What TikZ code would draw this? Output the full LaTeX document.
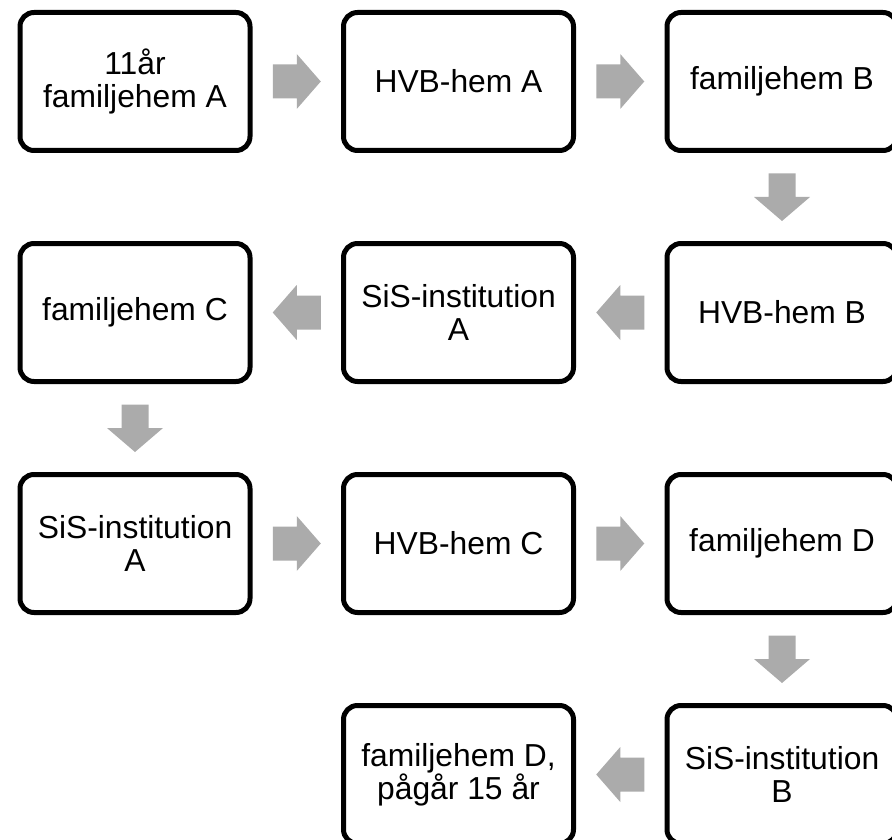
\documentclass[tikz,border=0pt]{standalone}
\usepackage{fontspec}
\setmainfont{Liberation Sans}
\usetikzlibrary{calc}
\definecolor{arrowgray}{HTML}{ABABAB}
\tikzset{
  stagebox/.style={draw=black, line width=5pt, fill=white, rounded corners=14pt,
    minimum width=230pt, minimum height=138pt, inner sep=0pt, align=center,
    font=\fontsize{31.8}{33}\selectfont},
  rarrow/.pic={\fill[arrowgray] (-24,-17) -- (0,-17) -- (0,-27.5) -- (24,0) -- (0,27.5) -- (0,17) -- (-24,17) -- cycle;},
  larrow/.pic={\fill[arrowgray] (24,-17) -- (0,-17) -- (0,-27.5) -- (-24,0) -- (0,27.5) -- (0,17) -- (24,17) -- cycle;},
  darrow/.pic={\fill[arrowgray] (-13.5,-23.5) -- (-13.5,0) -- (-28,0) -- (0,24) -- (28,0) -- (13.5,0) -- (13.5,-23.5) -- cycle;}
}
\begin{document}
\begin{tikzpicture}[x=1pt,y=-1pt]
\useasboundingbox (0,0) rectangle (892,840);
% row 1
\node[stagebox] (a1) at (135,81.5) {11år\\familjehem A};
\node[stagebox] (a2) at (458.5,81.5) {HVB-hem A};
\node[stagebox] (a3) at (782,81.5) {familjehem B};
% row 2
\node[stagebox] (b3) at (782,312.5) {HVB-hem B};
\node[stagebox] (b2) at (458.5,312.5) {SiS-institution\\A};
\node[stagebox] (b1) at (135,312.5) {familjehem C};
% row 3
\node[stagebox] (c1) at (135,543.5) {SiS-institution\\A};
\node[stagebox] (c2) at (458.5,543.5) {HVB-hem C};
\node[stagebox] (c3) at (782,543.5) {familjehem D};
% row 4
\node[stagebox] (d3) at (782,774.5) {SiS-institution\\B};
\node[stagebox] (d2) at (458.5,774.5) {familjehem D,\\pågår 15 år};
% arrows
\path ($(a1.east)!0.5!(a2.west)$) pic {rarrow};
\path ($(a2.east)!0.5!(a3.west)$) pic {rarrow};
\path ($(a3.south)!0.5!(b3.north)$) pic {darrow};
\path ($(b3.west)!0.5!(b2.east)$) pic {larrow};
\path ($(b2.west)!0.5!(b1.east)$) pic {larrow};
\path ($(b1.south)!0.5!(c1.north)$) pic {darrow};
\path ($(c1.east)!0.5!(c2.west)$) pic {rarrow};
\path ($(c2.east)!0.5!(c3.west)$) pic {rarrow};
\path ($(c3.south)!0.5!(d3.north)$) pic {darrow};
\path ($(d3.west)!0.5!(d2.east)$) pic {larrow};
\end{tikzpicture}
\end{document}
